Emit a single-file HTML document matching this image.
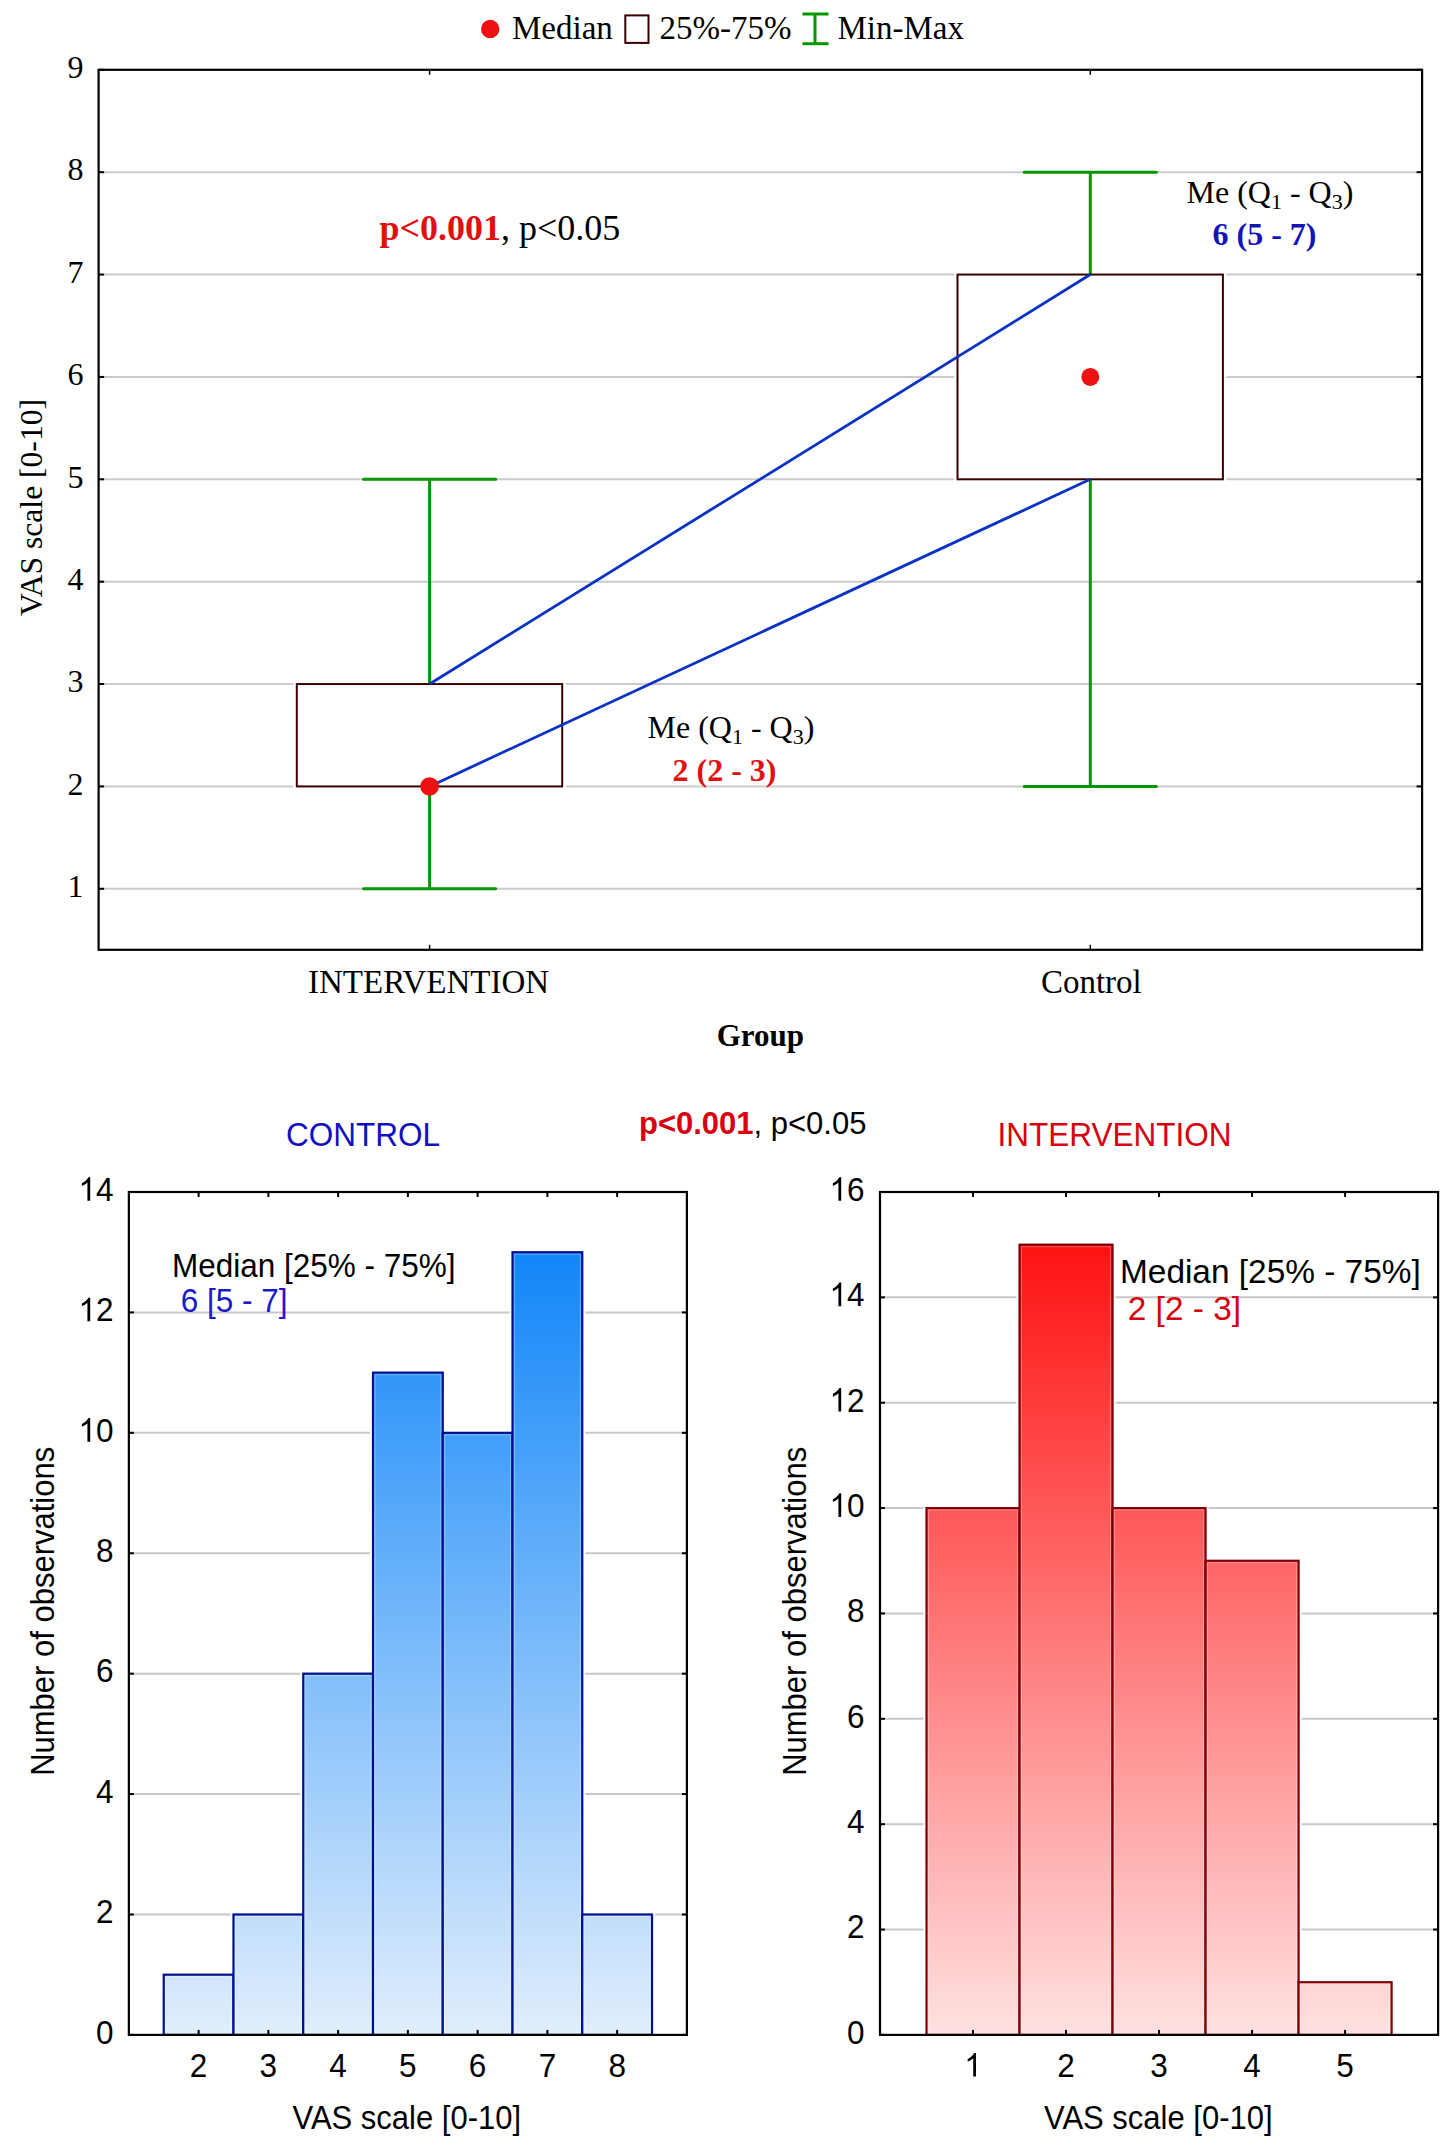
<!DOCTYPE html>
<html><head><meta charset="utf-8"><title>VAS scale box plot and histograms</title>
<style>html,body{margin:0;padding:0;background:#fff;} svg{display:block;}</style></head>
<body><svg width="1441" height="2155" viewBox="0 0 1441 2155">
<rect width="1441" height="2155" fill="#fff"/>
<line x1="98.6" y1="888.80" x2="1422.1" y2="888.80" stroke="#cbcbcb" stroke-width="2"/>
<line x1="98.6" y1="786.42" x2="1422.1" y2="786.42" stroke="#cbcbcb" stroke-width="2"/>
<line x1="98.6" y1="684.05" x2="1422.1" y2="684.05" stroke="#cbcbcb" stroke-width="2"/>
<line x1="98.6" y1="581.67" x2="1422.1" y2="581.67" stroke="#cbcbcb" stroke-width="2"/>
<line x1="98.6" y1="479.30" x2="1422.1" y2="479.30" stroke="#cbcbcb" stroke-width="2"/>
<line x1="98.6" y1="376.93" x2="1422.1" y2="376.93" stroke="#cbcbcb" stroke-width="2"/>
<line x1="98.6" y1="274.55" x2="1422.1" y2="274.55" stroke="#cbcbcb" stroke-width="2"/>
<line x1="98.6" y1="172.18" x2="1422.1" y2="172.18" stroke="#cbcbcb" stroke-width="2"/>
<rect x="296.8" y="684.05" width="265.40000000000003" height="102.375" fill="#fff" stroke="#fff" stroke-width="7"/>
<line x1="429.6" y1="479.3" x2="429.6" y2="684.05" stroke="#009600" stroke-width="3"/>
<line x1="429.6" y1="786.425" x2="429.6" y2="888.8" stroke="#009600" stroke-width="3"/>
<line x1="363.6" y1="888.8" x2="495.6" y2="888.8" stroke="#009600" stroke-width="3" stroke-linecap="round"/>
<line x1="363.6" y1="479.3" x2="495.6" y2="479.3" stroke="#009600" stroke-width="3" stroke-linecap="round"/>
<rect x="296.8" y="684.05" width="265.40000000000003" height="102.375" fill="none" stroke="#3a0000" stroke-width="2"/>
<rect x="957.5" y="274.55" width="265.39999999999986" height="204.75" fill="#fff" stroke="#fff" stroke-width="7"/>
<line x1="1090.3" y1="172.175" x2="1090.3" y2="274.55" stroke="#009600" stroke-width="3"/>
<line x1="1090.3" y1="479.3" x2="1090.3" y2="786.425" stroke="#009600" stroke-width="3"/>
<line x1="1024.3" y1="786.425" x2="1156.3" y2="786.425" stroke="#009600" stroke-width="3" stroke-linecap="round"/>
<line x1="1024.3" y1="172.175" x2="1156.3" y2="172.175" stroke="#009600" stroke-width="3" stroke-linecap="round"/>
<rect x="957.5" y="274.55" width="265.39999999999986" height="204.75" fill="none" stroke="#3a0000" stroke-width="2"/>
<line x1="429.6" y1="684.05" x2="1090.3" y2="274.55" stroke="#0a32c4" stroke-width="2.8"/>
<line x1="429.6" y1="786.425" x2="1090.3" y2="479.3" stroke="#0a32c4" stroke-width="2.8"/>
<circle cx="429.6" cy="786.425" r="9.3" fill="#ee1111"/>
<circle cx="1090.3" cy="376.925" r="9" fill="#ee1111"/>
<rect x="98.6" y="69.8" width="1323.5" height="880.0" fill="none" stroke="#000" stroke-width="2.2"/>
<line x1="98.6" y1="888.80" x2="104.1" y2="888.80" stroke="#000" stroke-width="2"/>
<line x1="1416.6" y1="888.80" x2="1422.1" y2="888.80" stroke="#000" stroke-width="2"/>
<line x1="98.6" y1="786.42" x2="104.1" y2="786.42" stroke="#000" stroke-width="2"/>
<line x1="1416.6" y1="786.42" x2="1422.1" y2="786.42" stroke="#000" stroke-width="2"/>
<line x1="98.6" y1="684.05" x2="104.1" y2="684.05" stroke="#000" stroke-width="2"/>
<line x1="1416.6" y1="684.05" x2="1422.1" y2="684.05" stroke="#000" stroke-width="2"/>
<line x1="98.6" y1="581.67" x2="104.1" y2="581.67" stroke="#000" stroke-width="2"/>
<line x1="1416.6" y1="581.67" x2="1422.1" y2="581.67" stroke="#000" stroke-width="2"/>
<line x1="98.6" y1="479.30" x2="104.1" y2="479.30" stroke="#000" stroke-width="2"/>
<line x1="1416.6" y1="479.30" x2="1422.1" y2="479.30" stroke="#000" stroke-width="2"/>
<line x1="98.6" y1="376.93" x2="104.1" y2="376.93" stroke="#000" stroke-width="2"/>
<line x1="1416.6" y1="376.93" x2="1422.1" y2="376.93" stroke="#000" stroke-width="2"/>
<line x1="98.6" y1="274.55" x2="104.1" y2="274.55" stroke="#000" stroke-width="2"/>
<line x1="1416.6" y1="274.55" x2="1422.1" y2="274.55" stroke="#000" stroke-width="2"/>
<line x1="98.6" y1="172.18" x2="104.1" y2="172.18" stroke="#000" stroke-width="2"/>
<line x1="1416.6" y1="172.18" x2="1422.1" y2="172.18" stroke="#000" stroke-width="2"/>
<line x1="98.6" y1="69.80" x2="104.1" y2="69.80" stroke="#000" stroke-width="2"/>
<line x1="1416.6" y1="69.80" x2="1422.1" y2="69.80" stroke="#000" stroke-width="2"/>
<line x1="429.6" y1="69.8" x2="429.6" y2="74.8" stroke="#000" stroke-width="1.5"/>
<line x1="429.6" y1="944.8" x2="429.6" y2="949.8" stroke="#000" stroke-width="1.5"/>
<line x1="1090.3" y1="69.8" x2="1090.3" y2="74.8" stroke="#000" stroke-width="1.5"/>
<line x1="1090.3" y1="944.8" x2="1090.3" y2="949.8" stroke="#000" stroke-width="1.5"/>
<text x="83.5" y="897.00" text-anchor="end" font-family='"Liberation Serif", serif' font-size="32">1</text>
<text x="83.5" y="794.62" text-anchor="end" font-family='"Liberation Serif", serif' font-size="32">2</text>
<text x="83.5" y="692.25" text-anchor="end" font-family='"Liberation Serif", serif' font-size="32">3</text>
<text x="83.5" y="589.88" text-anchor="end" font-family='"Liberation Serif", serif' font-size="32">4</text>
<text x="83.5" y="487.50" text-anchor="end" font-family='"Liberation Serif", serif' font-size="32">5</text>
<text x="83.5" y="385.12" text-anchor="end" font-family='"Liberation Serif", serif' font-size="32">6</text>
<text x="83.5" y="282.75" text-anchor="end" font-family='"Liberation Serif", serif' font-size="32">7</text>
<text x="83.5" y="180.38" text-anchor="end" font-family='"Liberation Serif", serif' font-size="32">8</text>
<text x="83.5" y="78.00" text-anchor="end" font-family='"Liberation Serif", serif' font-size="32">9</text>
<text transform="translate(42,507.5) rotate(-90)" text-anchor="middle" font-family='"Liberation Serif", serif' font-size="31.6">VAS scale [0-10]</text>
<text x="428.6" y="992.9" text-anchor="middle" font-family='"Liberation Serif", serif' font-size="33">INTERVENTION</text>
<text x="1091.3" y="992.8" text-anchor="middle" font-family='"Liberation Serif", serif' font-size="33">Control</text>
<text x="760.3" y="1046.3" text-anchor="middle" font-family='"Liberation Serif", serif' font-size="31" font-weight="bold">Group</text>
<circle cx="490.2" cy="28.9" r="9.2" fill="#ee1111"/>
<text x="512" y="38.8" font-family='"Liberation Serif", serif' font-size="33">Median</text>
<rect x="625.3" y="15.4" width="23.2" height="27.5" fill="none" stroke="#3a0000" stroke-width="2"/>
<text x="659.5" y="38.8" font-family='"Liberation Serif", serif' font-size="33">25%-75%</text>
<line x1="802.5" y1="14" x2="828.5" y2="14" stroke="#009600" stroke-width="3"/>
<line x1="802.5" y1="43.7" x2="828.5" y2="43.7" stroke="#009600" stroke-width="3"/>
<line x1="815" y1="14" x2="815" y2="43.7" stroke="#009600" stroke-width="3"/>
<text x="837.5" y="38.8" font-family='"Liberation Serif", serif' font-size="33">Min-Max</text>
<text x="379.5" y="240" font-family='"Liberation Serif", serif' font-size="36"><tspan font-weight="bold" fill="#e01010">p&lt;0.001</tspan>, p&lt;0.05</text>
<text x="1186.5" y="202.5" font-family='"Liberation Serif", serif' font-size="32">Me (Q<tspan font-size="22" dy="6">1</tspan><tspan dy="-6"> - Q</tspan><tspan font-size="22" dy="6">3</tspan><tspan dy="-6">)</tspan></text>
<text x="1212.5" y="244.8" font-family='"Liberation Serif", serif' font-size="32" font-weight="bold" fill="#1414b8">6 (5 - 7)</text>
<text x="647.5" y="738.2" font-family='"Liberation Serif", serif' font-size="32">Me (Q<tspan font-size="22" dy="6">1</tspan><tspan dy="-6"> - Q</tspan><tspan font-size="22" dy="6">3</tspan><tspan dy="-6">)</tspan></text>
<text x="672.5" y="780.5" font-family='"Liberation Serif", serif' font-size="32" font-weight="bold" fill="#e01010">2 (2 - 3)</text>
<defs><linearGradient id="gb" gradientUnits="userSpaceOnUse" x1="0" y1="1192.0" x2="0" y2="2034.9"><stop offset="0" stop-color="#017ef8"/><stop offset="1" stop-color="#e1eefc"/></linearGradient></defs>
<line x1="128.85" y1="1914.49" x2="686.9" y2="1914.49" stroke="#c8c8c8" stroke-width="2"/>
<line x1="128.85" y1="1794.07" x2="686.9" y2="1794.07" stroke="#c8c8c8" stroke-width="2"/>
<line x1="128.85" y1="1673.66" x2="686.9" y2="1673.66" stroke="#c8c8c8" stroke-width="2"/>
<line x1="128.85" y1="1553.24" x2="686.9" y2="1553.24" stroke="#c8c8c8" stroke-width="2"/>
<line x1="128.85" y1="1432.83" x2="686.9" y2="1432.83" stroke="#c8c8c8" stroke-width="2"/>
<line x1="128.85" y1="1312.41" x2="686.9" y2="1312.41" stroke="#c8c8c8" stroke-width="2"/>
<rect x="163.73" y="1974.69" width="69.76" height="60.21" fill="#fff" stroke="#fff" stroke-width="6"/>
<rect x="233.48" y="1914.49" width="69.76" height="120.41" fill="#fff" stroke="#fff" stroke-width="6"/>
<rect x="303.24" y="1673.66" width="69.76" height="361.24" fill="#fff" stroke="#fff" stroke-width="6"/>
<rect x="373.00" y="1372.62" width="69.76" height="662.28" fill="#fff" stroke="#fff" stroke-width="6"/>
<rect x="442.75" y="1432.83" width="69.76" height="602.07" fill="#fff" stroke="#fff" stroke-width="6"/>
<rect x="512.51" y="1252.21" width="69.76" height="782.69" fill="#fff" stroke="#fff" stroke-width="6"/>
<rect x="582.27" y="1914.49" width="69.76" height="120.41" fill="#fff" stroke="#fff" stroke-width="6"/>
<rect x="163.73" y="1974.69" width="69.76" height="60.21" fill="url(#gb)" stroke="#001090" stroke-width="2.2"/>
<rect x="165.73" y="1976.69" width="65.76" height="56.21" fill="none" stroke="#fff" stroke-opacity="0.3" stroke-width="1"/>
<rect x="233.48" y="1914.49" width="69.76" height="120.41" fill="url(#gb)" stroke="#001090" stroke-width="2.2"/>
<rect x="235.48" y="1916.49" width="65.76" height="116.41" fill="none" stroke="#fff" stroke-opacity="0.3" stroke-width="1"/>
<rect x="303.24" y="1673.66" width="69.76" height="361.24" fill="url(#gb)" stroke="#001090" stroke-width="2.2"/>
<rect x="305.24" y="1675.66" width="65.76" height="357.24" fill="none" stroke="#fff" stroke-opacity="0.3" stroke-width="1"/>
<rect x="373.00" y="1372.62" width="69.76" height="662.28" fill="url(#gb)" stroke="#001090" stroke-width="2.2"/>
<rect x="375.00" y="1374.62" width="65.76" height="658.28" fill="none" stroke="#fff" stroke-opacity="0.3" stroke-width="1"/>
<rect x="442.75" y="1432.83" width="69.76" height="602.07" fill="url(#gb)" stroke="#001090" stroke-width="2.2"/>
<rect x="444.75" y="1434.83" width="65.76" height="598.07" fill="none" stroke="#fff" stroke-opacity="0.3" stroke-width="1"/>
<rect x="512.51" y="1252.21" width="69.76" height="782.69" fill="url(#gb)" stroke="#001090" stroke-width="2.2"/>
<rect x="514.51" y="1254.21" width="65.76" height="778.69" fill="none" stroke="#fff" stroke-opacity="0.3" stroke-width="1"/>
<rect x="582.27" y="1914.49" width="69.76" height="120.41" fill="url(#gb)" stroke="#001090" stroke-width="2.2"/>
<rect x="584.27" y="1916.49" width="65.76" height="116.41" fill="none" stroke="#fff" stroke-opacity="0.3" stroke-width="1"/>
<rect x="128.85" y="1192.0" width="558.05" height="842.9000000000001" fill="none" stroke="#000" stroke-width="2.2"/>
<line x1="128.85" y1="2034.90" x2="133.85" y2="2034.90" stroke="#000" stroke-width="2"/>
<line x1="681.9" y1="2034.90" x2="686.9" y2="2034.90" stroke="#000" stroke-width="2"/>
<text transform="translate(95.98,2043.70) scale(1,1.07)" font-family='"Liberation Sans", sans-serif' font-size="31.5" fill="#000">0</text>
<line x1="128.85" y1="1914.49" x2="133.85" y2="1914.49" stroke="#000" stroke-width="2"/>
<line x1="681.9" y1="1914.49" x2="686.9" y2="1914.49" stroke="#000" stroke-width="2"/>
<text transform="translate(95.98,1923.29) scale(1,1.07)" font-family='"Liberation Sans", sans-serif' font-size="31.5" fill="#000">2</text>
<line x1="128.85" y1="1794.07" x2="133.85" y2="1794.07" stroke="#000" stroke-width="2"/>
<line x1="681.9" y1="1794.07" x2="686.9" y2="1794.07" stroke="#000" stroke-width="2"/>
<text transform="translate(95.98,1802.87) scale(1,1.07)" font-family='"Liberation Sans", sans-serif' font-size="31.5" fill="#000">4</text>
<line x1="128.85" y1="1673.66" x2="133.85" y2="1673.66" stroke="#000" stroke-width="2"/>
<line x1="681.9" y1="1673.66" x2="686.9" y2="1673.66" stroke="#000" stroke-width="2"/>
<text transform="translate(95.98,1682.46) scale(1,1.07)" font-family='"Liberation Sans", sans-serif' font-size="31.5" fill="#000">6</text>
<line x1="128.85" y1="1553.24" x2="133.85" y2="1553.24" stroke="#000" stroke-width="2"/>
<line x1="681.9" y1="1553.24" x2="686.9" y2="1553.24" stroke="#000" stroke-width="2"/>
<text transform="translate(95.98,1562.04) scale(1,1.07)" font-family='"Liberation Sans", sans-serif' font-size="31.5" fill="#000">8</text>
<line x1="128.85" y1="1432.83" x2="133.85" y2="1432.83" stroke="#000" stroke-width="2"/>
<line x1="681.9" y1="1432.83" x2="686.9" y2="1432.83" stroke="#000" stroke-width="2"/>
<path d="M763 0L583 0L583 1147Q518 1085 412 1023Q306 961 222 930L222 1104Q373 1175 486 1276Q599 1377 646 1472L763 1472Z" fill="#000" transform="translate(78.46,1441.63) scale(0.01538,-0.01600)"/>
<text transform="translate(95.98,1441.63) scale(1,1.07)" font-family='"Liberation Sans", sans-serif' font-size="31.5" fill="#000">0</text>
<line x1="128.85" y1="1312.41" x2="133.85" y2="1312.41" stroke="#000" stroke-width="2"/>
<line x1="681.9" y1="1312.41" x2="686.9" y2="1312.41" stroke="#000" stroke-width="2"/>
<path d="M763 0L583 0L583 1147Q518 1085 412 1023Q306 961 222 930L222 1104Q373 1175 486 1276Q599 1377 646 1472L763 1472Z" fill="#000" transform="translate(78.46,1321.21) scale(0.01538,-0.01600)"/>
<text transform="translate(95.98,1321.21) scale(1,1.07)" font-family='"Liberation Sans", sans-serif' font-size="31.5" fill="#000">2</text>
<line x1="128.85" y1="1192.00" x2="133.85" y2="1192.00" stroke="#000" stroke-width="2"/>
<line x1="681.9" y1="1192.00" x2="686.9" y2="1192.00" stroke="#000" stroke-width="2"/>
<path d="M763 0L583 0L583 1147Q518 1085 412 1023Q306 961 222 930L222 1104Q373 1175 486 1276Q599 1377 646 1472L763 1472Z" fill="#000" transform="translate(78.46,1200.80) scale(0.01538,-0.01600)"/>
<text transform="translate(95.98,1200.80) scale(1,1.07)" font-family='"Liberation Sans", sans-serif' font-size="31.5" fill="#000">4</text>
<line x1="198.61" y1="1192.0" x2="198.61" y2="1197.0" stroke="#000" stroke-width="2"/>
<line x1="198.61" y1="2029.9" x2="198.61" y2="2034.9" stroke="#000" stroke-width="2"/>
<text transform="translate(189.85,2076.60) scale(1,1.07)" font-family='"Liberation Sans", sans-serif' font-size="31.5" fill="#000">2</text>
<line x1="268.36" y1="1192.0" x2="268.36" y2="1197.0" stroke="#000" stroke-width="2"/>
<line x1="268.36" y1="2029.9" x2="268.36" y2="2034.9" stroke="#000" stroke-width="2"/>
<text transform="translate(259.60,2076.60) scale(1,1.07)" font-family='"Liberation Sans", sans-serif' font-size="31.5" fill="#000">3</text>
<line x1="338.12" y1="1192.0" x2="338.12" y2="1197.0" stroke="#000" stroke-width="2"/>
<line x1="338.12" y1="2029.9" x2="338.12" y2="2034.9" stroke="#000" stroke-width="2"/>
<text transform="translate(329.36,2076.60) scale(1,1.07)" font-family='"Liberation Sans", sans-serif' font-size="31.5" fill="#000">4</text>
<line x1="407.88" y1="1192.0" x2="407.88" y2="1197.0" stroke="#000" stroke-width="2"/>
<line x1="407.88" y1="2029.9" x2="407.88" y2="2034.9" stroke="#000" stroke-width="2"/>
<text transform="translate(399.12,2076.60) scale(1,1.07)" font-family='"Liberation Sans", sans-serif' font-size="31.5" fill="#000">5</text>
<line x1="477.63" y1="1192.0" x2="477.63" y2="1197.0" stroke="#000" stroke-width="2"/>
<line x1="477.63" y1="2029.9" x2="477.63" y2="2034.9" stroke="#000" stroke-width="2"/>
<text transform="translate(468.87,2076.60) scale(1,1.07)" font-family='"Liberation Sans", sans-serif' font-size="31.5" fill="#000">6</text>
<line x1="547.39" y1="1192.0" x2="547.39" y2="1197.0" stroke="#000" stroke-width="2"/>
<line x1="547.39" y1="2029.9" x2="547.39" y2="2034.9" stroke="#000" stroke-width="2"/>
<text transform="translate(538.63,2076.60) scale(1,1.07)" font-family='"Liberation Sans", sans-serif' font-size="31.5" fill="#000">7</text>
<line x1="617.14" y1="1192.0" x2="617.14" y2="1197.0" stroke="#000" stroke-width="2"/>
<line x1="617.14" y1="2029.9" x2="617.14" y2="2034.9" stroke="#000" stroke-width="2"/>
<text transform="translate(608.38,2076.60) scale(1,1.07)" font-family='"Liberation Sans", sans-serif' font-size="31.5" fill="#000">8</text>
<defs><linearGradient id="gr" gradientUnits="userSpaceOnUse" x1="0" y1="1192.0" x2="0" y2="2034.9"><stop offset="0" stop-color="#ff0404"/><stop offset="1" stop-color="#ffe1e1"/></linearGradient></defs>
<line x1="880.0" y1="1929.54" x2="1438.1" y2="1929.54" stroke="#c8c8c8" stroke-width="2"/>
<line x1="880.0" y1="1824.18" x2="1438.1" y2="1824.18" stroke="#c8c8c8" stroke-width="2"/>
<line x1="880.0" y1="1718.81" x2="1438.1" y2="1718.81" stroke="#c8c8c8" stroke-width="2"/>
<line x1="880.0" y1="1613.45" x2="1438.1" y2="1613.45" stroke="#c8c8c8" stroke-width="2"/>
<line x1="880.0" y1="1508.09" x2="1438.1" y2="1508.09" stroke="#c8c8c8" stroke-width="2"/>
<line x1="880.0" y1="1402.72" x2="1438.1" y2="1402.72" stroke="#c8c8c8" stroke-width="2"/>
<line x1="880.0" y1="1297.36" x2="1438.1" y2="1297.36" stroke="#c8c8c8" stroke-width="2"/>
<rect x="926.51" y="1508.09" width="93.02" height="526.81" fill="#fff" stroke="#fff" stroke-width="6"/>
<rect x="1019.52" y="1244.68" width="93.02" height="790.22" fill="#fff" stroke="#fff" stroke-width="6"/>
<rect x="1112.54" y="1508.09" width="93.02" height="526.81" fill="#fff" stroke="#fff" stroke-width="6"/>
<rect x="1205.56" y="1560.77" width="93.02" height="474.13" fill="#fff" stroke="#fff" stroke-width="6"/>
<rect x="1298.57" y="1982.22" width="93.02" height="52.68" fill="#fff" stroke="#fff" stroke-width="6"/>
<rect x="926.51" y="1508.09" width="93.02" height="526.81" fill="url(#gr)" stroke="#800008" stroke-width="2.2"/>
<rect x="928.51" y="1510.09" width="89.02" height="522.81" fill="none" stroke="#fff" stroke-opacity="0.3" stroke-width="1"/>
<rect x="1019.52" y="1244.68" width="93.02" height="790.22" fill="url(#gr)" stroke="#800008" stroke-width="2.2"/>
<rect x="1021.52" y="1246.68" width="89.02" height="786.22" fill="none" stroke="#fff" stroke-opacity="0.3" stroke-width="1"/>
<rect x="1112.54" y="1508.09" width="93.02" height="526.81" fill="url(#gr)" stroke="#800008" stroke-width="2.2"/>
<rect x="1114.54" y="1510.09" width="89.02" height="522.81" fill="none" stroke="#fff" stroke-opacity="0.3" stroke-width="1"/>
<rect x="1205.56" y="1560.77" width="93.02" height="474.13" fill="url(#gr)" stroke="#800008" stroke-width="2.2"/>
<rect x="1207.56" y="1562.77" width="89.02" height="470.13" fill="none" stroke="#fff" stroke-opacity="0.3" stroke-width="1"/>
<rect x="1298.57" y="1982.22" width="93.02" height="52.68" fill="url(#gr)" stroke="#800008" stroke-width="2.2"/>
<rect x="1300.57" y="1984.22" width="89.02" height="48.68" fill="none" stroke="#fff" stroke-opacity="0.3" stroke-width="1"/>
<rect x="880.0" y="1192.0" width="558.0999999999999" height="842.9000000000001" fill="none" stroke="#000" stroke-width="2.2"/>
<line x1="880.0" y1="2034.90" x2="885.0" y2="2034.90" stroke="#000" stroke-width="2"/>
<line x1="1433.1" y1="2034.90" x2="1438.1" y2="2034.90" stroke="#000" stroke-width="2"/>
<text transform="translate(846.98,2043.70) scale(1,1.07)" font-family='"Liberation Sans", sans-serif' font-size="31.5" fill="#000">0</text>
<line x1="880.0" y1="1929.54" x2="885.0" y2="1929.54" stroke="#000" stroke-width="2"/>
<line x1="1433.1" y1="1929.54" x2="1438.1" y2="1929.54" stroke="#000" stroke-width="2"/>
<text transform="translate(846.98,1938.34) scale(1,1.07)" font-family='"Liberation Sans", sans-serif' font-size="31.5" fill="#000">2</text>
<line x1="880.0" y1="1824.18" x2="885.0" y2="1824.18" stroke="#000" stroke-width="2"/>
<line x1="1433.1" y1="1824.18" x2="1438.1" y2="1824.18" stroke="#000" stroke-width="2"/>
<text transform="translate(846.98,1832.98) scale(1,1.07)" font-family='"Liberation Sans", sans-serif' font-size="31.5" fill="#000">4</text>
<line x1="880.0" y1="1718.81" x2="885.0" y2="1718.81" stroke="#000" stroke-width="2"/>
<line x1="1433.1" y1="1718.81" x2="1438.1" y2="1718.81" stroke="#000" stroke-width="2"/>
<text transform="translate(846.98,1727.61) scale(1,1.07)" font-family='"Liberation Sans", sans-serif' font-size="31.5" fill="#000">6</text>
<line x1="880.0" y1="1613.45" x2="885.0" y2="1613.45" stroke="#000" stroke-width="2"/>
<line x1="1433.1" y1="1613.45" x2="1438.1" y2="1613.45" stroke="#000" stroke-width="2"/>
<text transform="translate(846.98,1622.25) scale(1,1.07)" font-family='"Liberation Sans", sans-serif' font-size="31.5" fill="#000">8</text>
<line x1="880.0" y1="1508.09" x2="885.0" y2="1508.09" stroke="#000" stroke-width="2"/>
<line x1="1433.1" y1="1508.09" x2="1438.1" y2="1508.09" stroke="#000" stroke-width="2"/>
<path d="M763 0L583 0L583 1147Q518 1085 412 1023Q306 961 222 930L222 1104Q373 1175 486 1276Q599 1377 646 1472L763 1472Z" fill="#000" transform="translate(829.46,1516.89) scale(0.01538,-0.01600)"/>
<text transform="translate(846.98,1516.89) scale(1,1.07)" font-family='"Liberation Sans", sans-serif' font-size="31.5" fill="#000">0</text>
<line x1="880.0" y1="1402.72" x2="885.0" y2="1402.72" stroke="#000" stroke-width="2"/>
<line x1="1433.1" y1="1402.72" x2="1438.1" y2="1402.72" stroke="#000" stroke-width="2"/>
<path d="M763 0L583 0L583 1147Q518 1085 412 1023Q306 961 222 930L222 1104Q373 1175 486 1276Q599 1377 646 1472L763 1472Z" fill="#000" transform="translate(829.46,1411.52) scale(0.01538,-0.01600)"/>
<text transform="translate(846.98,1411.52) scale(1,1.07)" font-family='"Liberation Sans", sans-serif' font-size="31.5" fill="#000">2</text>
<line x1="880.0" y1="1297.36" x2="885.0" y2="1297.36" stroke="#000" stroke-width="2"/>
<line x1="1433.1" y1="1297.36" x2="1438.1" y2="1297.36" stroke="#000" stroke-width="2"/>
<path d="M763 0L583 0L583 1147Q518 1085 412 1023Q306 961 222 930L222 1104Q373 1175 486 1276Q599 1377 646 1472L763 1472Z" fill="#000" transform="translate(829.46,1306.16) scale(0.01538,-0.01600)"/>
<text transform="translate(846.98,1306.16) scale(1,1.07)" font-family='"Liberation Sans", sans-serif' font-size="31.5" fill="#000">4</text>
<line x1="880.0" y1="1192.00" x2="885.0" y2="1192.00" stroke="#000" stroke-width="2"/>
<line x1="1433.1" y1="1192.00" x2="1438.1" y2="1192.00" stroke="#000" stroke-width="2"/>
<path d="M763 0L583 0L583 1147Q518 1085 412 1023Q306 961 222 930L222 1104Q373 1175 486 1276Q599 1377 646 1472L763 1472Z" fill="#000" transform="translate(829.46,1200.80) scale(0.01538,-0.01600)"/>
<text transform="translate(846.98,1200.80) scale(1,1.07)" font-family='"Liberation Sans", sans-serif' font-size="31.5" fill="#000">6</text>
<line x1="973.02" y1="1192.0" x2="973.02" y2="1197.0" stroke="#000" stroke-width="2"/>
<line x1="973.02" y1="2029.9" x2="973.02" y2="2034.9" stroke="#000" stroke-width="2"/>
<path d="M763 0L583 0L583 1147Q518 1085 412 1023Q306 961 222 930L222 1104Q373 1175 486 1276Q599 1377 646 1472L763 1472Z" fill="#000" transform="translate(964.26,2076.60) scale(0.01538,-0.01600)"/>
<line x1="1066.03" y1="1192.0" x2="1066.03" y2="1197.0" stroke="#000" stroke-width="2"/>
<line x1="1066.03" y1="2029.9" x2="1066.03" y2="2034.9" stroke="#000" stroke-width="2"/>
<text transform="translate(1057.27,2076.60) scale(1,1.07)" font-family='"Liberation Sans", sans-serif' font-size="31.5" fill="#000">2</text>
<line x1="1159.05" y1="1192.0" x2="1159.05" y2="1197.0" stroke="#000" stroke-width="2"/>
<line x1="1159.05" y1="2029.9" x2="1159.05" y2="2034.9" stroke="#000" stroke-width="2"/>
<text transform="translate(1150.29,2076.60) scale(1,1.07)" font-family='"Liberation Sans", sans-serif' font-size="31.5" fill="#000">3</text>
<line x1="1252.07" y1="1192.0" x2="1252.07" y2="1197.0" stroke="#000" stroke-width="2"/>
<line x1="1252.07" y1="2029.9" x2="1252.07" y2="2034.9" stroke="#000" stroke-width="2"/>
<text transform="translate(1243.31,2076.60) scale(1,1.07)" font-family='"Liberation Sans", sans-serif' font-size="31.5" fill="#000">4</text>
<line x1="1345.08" y1="1192.0" x2="1345.08" y2="1197.0" stroke="#000" stroke-width="2"/>
<line x1="1345.08" y1="2029.9" x2="1345.08" y2="2034.9" stroke="#000" stroke-width="2"/>
<text transform="translate(1336.32,2076.60) scale(1,1.07)" font-family='"Liberation Sans", sans-serif' font-size="31.5" fill="#000">5</text>
<text transform="translate(363,1145.8) scale(1,1.05)" text-anchor="middle" font-family='"Liberation Sans", sans-serif' font-size="31.5" fill="#1010c0">CONTROL</text>
<text transform="translate(1114.5,1145.9) scale(1,1.04)" text-anchor="middle" font-family='"Liberation Sans", sans-serif' font-size="31.5" fill="#d80010">INTERVENTION</text>
<text transform="translate(639,1133.8) scale(1,1.04)" text-anchor="start" font-family='"Liberation Sans", sans-serif' font-size="31" fill="#000"><tspan font-weight="bold" fill="#d80010">p&lt;0.001</tspan>, p&lt;0.05</text>
<text transform="translate(172,1276.7) scale(1,1.04)" text-anchor="start" font-family='"Liberation Sans", sans-serif' font-size="31.5" fill="#000">Median [25% - 75%]</text>
<text transform="translate(172,1311.7) scale(1,1.04)" text-anchor="start" font-family='"Liberation Sans", sans-serif' font-size="31.5" fill="#1a1ac8" xml:space="preserve"> 6 [5 - 7]</text>
<text transform="translate(1120,1282.8) scale(1,1.0)" text-anchor="start" font-family='"Liberation Sans", sans-serif' font-size="33.4" fill="#000">Median [25% - 75%]</text>
<text transform="translate(1118.5,1319.8) scale(1,1.0)" text-anchor="start" font-family='"Liberation Sans", sans-serif' font-size="33.4" fill="#d80010" xml:space="preserve"> 2 [2 - 3]</text>
<text transform="translate(406.8,2128.6) scale(1,1.07)" text-anchor="middle" font-family='"Liberation Sans", sans-serif' font-size="31" fill="#000">VAS scale [0-10]</text>
<text transform="translate(1158.3,2128.5) scale(1,1.07)" text-anchor="middle" font-family='"Liberation Sans", sans-serif' font-size="31" fill="#000">VAS scale [0-10]</text>
<text transform="translate(54.4,1611.3) rotate(-90) scale(1,1.06)" text-anchor="middle" font-family='"Liberation Sans", sans-serif' font-size="31" fill="#000">Number of observations</text>
<text transform="translate(806.1,1611.3) rotate(-90) scale(1,1.06)" text-anchor="middle" font-family='"Liberation Sans", sans-serif' font-size="31" fill="#000">Number of observations</text>
</svg></body></html>
